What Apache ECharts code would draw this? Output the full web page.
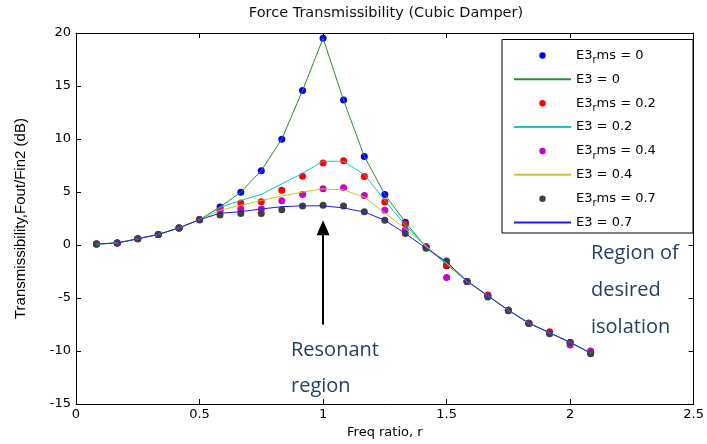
<!DOCTYPE html>
<html>
<head>
<meta charset="utf-8">
<script src="https://cdn.jsdelivr.net/npm/echarts@6/dist/echarts.min.js"></script>
<style>html,body{margin:0;padding:0;background:#fff}#c{width:707px;height:444px}</style>
</head>
<body>
<div id="c"></div>
<script>
// Frequency ratio r
const freqRatio = [0.083,0.167,0.25,0.333,0.417,0.5,0.583,0.667,0.75,0.833,0.917,1.0,1.083,1.167,1.25,1.333,1.417,1.5,1.583,1.667,1.75,1.833,1.917,2.0,2.083];

// Transmissibility (dB) — RMS (dots) and E3 (lines)
const rms0  = [0.09,0.2,0.59,1.0,1.62,2.4,3.59,4.99,7.02,9.99,14.58,19.5,13.67,8.36,4.78,2.15,-0.19,-1.95,-3.43,-4.78,-6.15,-7.37,-8.27,-9.18,-10.18];
const e3_0  = [0.09,0.2,0.59,1.0,1.62,2.4,3.59,4.99,7.02,9.99,14.58,19.5,13.67,8.36,4.78,2.15,-0.19,-1.8,-3.43,-4.78,-6.15,-7.37,-8.27,-9.18,-10.18];
const rms02 = [0.09,0.2,0.59,1.0,1.62,2.4,3.34,3.96,4.09,5.18,6.49,7.74,7.96,6.46,4.06,1.97,-0.15,-1.9,-3.43,-4.7,-6.15,-7.37,-8.17,-9.18,-10.1];
const e3_02 = [0.09,0.2,0.59,1.0,1.62,2.4,3.55,4.21,4.78,5.78,6.77,7.9,7.9,6.65,4.21,1.87,-0.15,-1.75,-3.43,-4.78,-6.15,-7.37,-8.27,-9.18,-10.18];
const rms04 = [0.09,0.2,0.59,1.0,1.62,2.4,3.21,3.4,3.4,4.18,4.78,5.31,5.4,4.68,3.28,1.45,-0.16,-3.06,-3.43,-4.78,-6.15,-7.37,-8.27,-9.43,-10.0];
const e3_04 = [0.09,0.2,0.59,1.0,1.62,2.4,3.28,3.75,4.21,4.62,5.0,5.3,5.2,4.53,3.03,1.56,-0.1,-1.7,-3.43,-4.78,-6.15,-7.37,-8.27,-9.18,-10.18];
const rms07 = [0.09,0.2,0.59,1.0,1.62,2.37,2.84,2.97,2.97,3.34,3.68,3.75,3.68,3.15,2.34,1.1,-0.3,-1.5,-3.43,-4.9,-6.2,-7.4,-8.37,-9.18,-10.24];
const e3_07 = [0.09,0.2,0.59,1.0,1.62,2.4,3.0,3.15,3.4,3.62,3.7,3.7,3.5,3.12,2.34,1.09,-0.3,-1.6,-3.4,-4.78,-6.15,-7.37,-8.27,-9.18,-10.18];

const xTicks = [0, 0.5, 1, 1.5, 2, 2.5];
const yTicks = [-15, -10, -5, 0, 5, 10, 15, 20];

const dotNames  = ['E3rms = 0', 'E3rms = 0.2', 'E3rms = 0.4', 'E3rms = 0.7'];
const lineNames = ['E3 = 0', 'E3 = 0.2', 'E3 = 0.4', 'E3 = 0.7'];
const dotColors  = ['#0000ff', '#ff0000', '#cc00cc', '#404040'];
const lineColors = ['#2a8c2a', '#10c8c8', '#c8c820', '#1a1aff'];
const dotData  = [rms0, rms02, rms04, rms07];
const lineData = [e3_0, e3_02, e3_04, e3_07];

// Arrow annotation (data coords)
const arrowX = 1.0, arrowFrom = -7.5, arrowShaftTop = 1.0, arrowHead = 1.64;

const pair = (ys) => ys.map((v, i) => [freqRatio[i], v]);

const series = [];
const legendData = [];
for (let i = 0; i < 4; i++) {
  series.push({
    name: dotNames[i], type: 'line', data: pair(dotData[i]),
    symbol: 'circle', symbolSize: 7, showSymbol: true,
    itemStyle: { color: dotColors[i] },
    lineStyle: { width: 0, opacity: 0 },
    emphasis: { disabled: true }, z: 2
  });
  legendData.push({ name: dotNames[i] });
  series.push({
    name: lineNames[i], type: 'line', data: pair(lineData[i]),
    symbol: 'none', showSymbol: false,
    itemStyle: { color: lineColors[i] },
    lineStyle: { width: 1, color: lineColors[i] },
    emphasis: { disabled: true }, z: 3
  });
  legendData.push({ name: lineNames[i], itemStyle: { opacity: 0 } });
}
const last = series[series.length - 1];
last.markLine = {
  silent: true, animation: false,
  symbol: ['none', 'none'],
  label: { show: false },
  lineStyle: { color: '#000', width: 2, type: 'solid' },
  emphasis: { disabled: true },
  data: [[{ coord: [arrowX, arrowFrom] }, { coord: [arrowX, arrowShaftTop] }]]
};
last.markPoint = {
  silent: true, animation: false,
  symbol: 'triangle', symbolSize: [13, 15],
  label: { show: false },
  itemStyle: { color: '#000' },
  emphasis: { disabled: true },
  data: [{ coord: [arrowX, arrowHead] }]
};

const chart = echarts.init(document.getElementById('c'), null, { renderer: 'canvas' });
const axisCommon = {
  axisLine: { show: true, onZero: false, lineStyle: { color: '#000', width: 1 } },
  axisTick: { show: true, inside: true, length: 5, lineStyle: { color: '#000' } },
  splitLine: { show: false }
};
chart.setOption({
  animation: false,
  backgroundColor: '#fff',
  title: {
    text: 'Force Transmissibility (Cubic Damper)',
    left: 386, textAlign: 'center', top: 6, padding: 0,
    textStyle: { fontFamily: 'DejaVu Sans', fontSize: 14.5, fontWeight: 'normal', color: '#111' }
  },
  grid: { left: 76, right: 10, top: 33, bottom: 39.5, containLabel: false },
  xAxis: [
    Object.assign({}, axisCommon, {
      type: 'value', min: xTicks[0], max: xTicks[xTicks.length - 1], interval: 0.5, position: 'bottom',
      name: 'Freq ratio, r', nameLocation: 'middle', nameGap: 21,
      nameTextStyle: { fontFamily: 'DejaVu Sans', fontSize: 13, color: '#000' },
      axisLabel: { fontFamily: 'DejaVu Sans', fontSize: 13, color: '#000', margin: 4 }
    }),
    Object.assign({}, axisCommon, {
      type: 'value', min: xTicks[0], max: xTicks[xTicks.length - 1], interval: 0.5, position: 'top',
      axisLabel: { show: false }
    })
  ],
  yAxis: [
    Object.assign({}, axisCommon, {
      type: 'value', min: yTicks[0], max: yTicks[yTicks.length - 1], interval: 5, position: 'left',
      name: 'Transmissibility,Fout/Fin2 (dB)', nameLocation: 'middle', nameGap: 48, nameRotate: 90,
      nameTextStyle: { fontFamily: 'Liberation Sans', fontSize: 15, color: '#000' },
      axisLabel: { fontFamily: 'DejaVu Sans', fontSize: 13, color: '#000', margin: 5 }
    }),
    Object.assign({}, axisCommon, {
      type: 'value', min: yTicks[0], max: yTicks[yTicks.length - 1], interval: 5, position: 'right',
      axisLabel: { show: false }
    })
  ],
  legend: {
    orient: 'vertical', left: 513, top: 49, padding: 0,
    itemWidth: 57, itemHeight: 8, itemGap: 7.37,
    selectedMode: false,
    data: legendData,
    formatter: function (name) {
      if (name.indexOf('rms') >= 0) {
        return '{a|E3}{s|r}{a|' + name.replace('E3rms', 'ms') + '}';
      }
      return '{a|' + name + '}{s| }';
    },
    textStyle: {
      fontFamily: 'DejaVu Sans', fontSize: 13, color: '#000',
      rich: {
        a: { fontFamily: 'DejaVu Sans', fontSize: 13, color: '#000', lineHeight: 20 },
        s: { fontFamily: 'DejaVu Sans', fontSize: 10, color: '#000', lineHeight: 3, verticalAlign: 'bottom' }
      }
    }
  },
  graphic: [
    { type: 'rect', z: 3, shape: { x: 502, y: 39.5, width: 191, height: 193.5 },
      style: { fill: '#fff', stroke: '#000', lineWidth: 1 } },
    { type: 'text', z: 5, x: 291, y: 350, style: { text: 'Resonant', fontFamily: 'Open Sans', fontSize: 20, fill: '#243f63', verticalAlign: 'middle' } },
    { type: 'text', z: 5, x: 291, y: 386, style: { text: 'region', fontFamily: 'Open Sans', fontSize: 20, fill: '#243f63', verticalAlign: 'middle' } },
    { type: 'text', z: 5, x: 591, y: 253, style: { text: 'Region of', fontFamily: 'Open Sans', fontSize: 20, fill: '#243f63', verticalAlign: 'middle' } },
    { type: 'text', z: 5, x: 591, y: 290, style: { text: 'desired', fontFamily: 'Open Sans', fontSize: 20, fill: '#243f63', verticalAlign: 'middle' } },
    { type: 'text', z: 5, x: 591, y: 327, style: { text: 'isolation', fontFamily: 'Open Sans', fontSize: 20, fill: '#243f63', verticalAlign: 'middle' } }
  ],
  series: series
});
</script>
</body>
</html>
